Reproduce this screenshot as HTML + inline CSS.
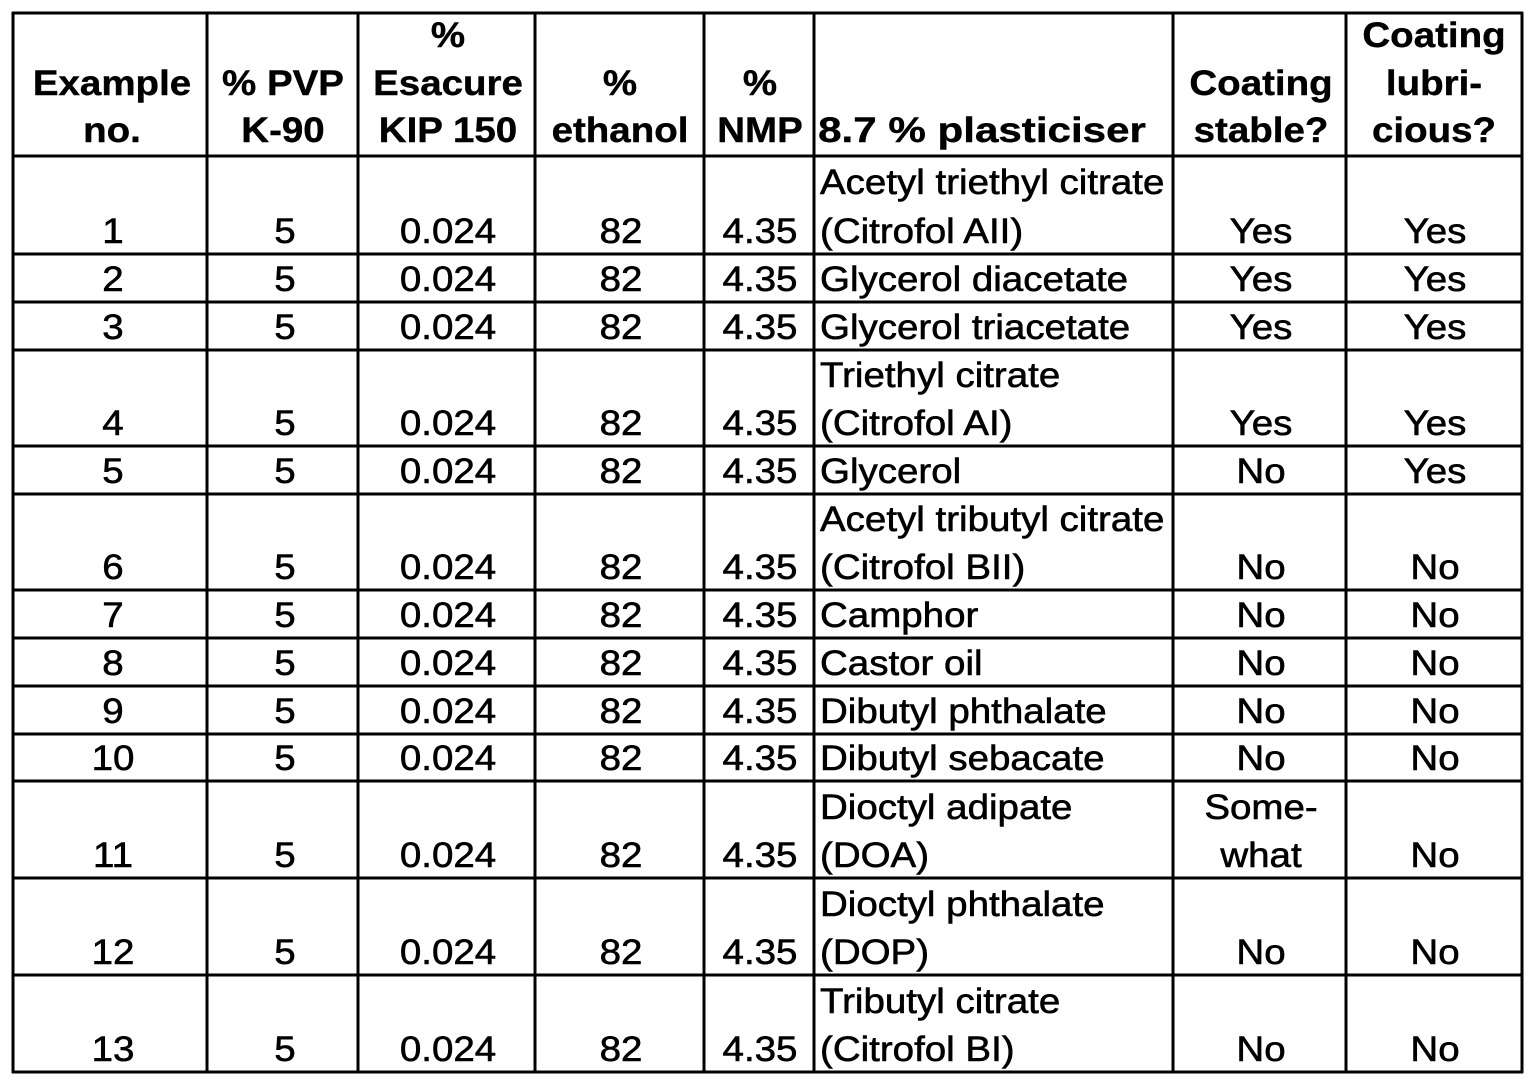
<!DOCTYPE html>
<html>
<head>
<meta charset="utf-8">
<style>
html,body{margin:0;padding:0;background:#fff;}
svg{display:block;}
text{font-family:"Liberation Sans",Arial,sans-serif;font-size:35px;fill:#000;stroke:#000;stroke-width:0.6px;}
.b{font-weight:bold;stroke-width:0.4px;}
</style>
</head>
<body>
<svg width="1534" height="1086" viewBox="0 0 1534 1086" xmlns="http://www.w3.org/2000/svg">
<rect x="0" y="0" width="1534" height="1086" fill="#fff"/>
<g stroke="#000" stroke-width="3" fill="none">
<line x1="13" y1="12" x2="13" y2="1073"/>
<line x1="207" y1="12" x2="207" y2="1073"/>
<line x1="358" y1="12" x2="358" y2="1073"/>
<line x1="535" y1="12" x2="535" y2="1073"/>
<line x1="704" y1="12" x2="704" y2="1073"/>
<line x1="814" y1="12" x2="814" y2="1073"/>
<line x1="1173" y1="12" x2="1173" y2="1073"/>
<line x1="1346" y1="12" x2="1346" y2="1073"/>
<line x1="1522" y1="12" x2="1522" y2="1073"/>
<line x1="12" y1="13" x2="1523" y2="13"/>
<line x1="12" y1="156" x2="1523" y2="156"/>
<line x1="12" y1="254" x2="1523" y2="254"/>
<line x1="12" y1="302" x2="1523" y2="302"/>
<line x1="12" y1="350" x2="1523" y2="350"/>
<line x1="12" y1="446" x2="1523" y2="446"/>
<line x1="12" y1="494" x2="1523" y2="494"/>
<line x1="12" y1="590" x2="1523" y2="590"/>
<line x1="12" y1="638" x2="1523" y2="638"/>
<line x1="12" y1="686" x2="1523" y2="686"/>
<line x1="12" y1="734" x2="1523" y2="734"/>
<line x1="12" y1="781" x2="1523" y2="781"/>
<line x1="12" y1="878" x2="1523" y2="878"/>
<line x1="12" y1="975" x2="1523" y2="975"/>
<line x1="12" y1="1072" x2="1523" y2="1072"/>
</g>

<g text-anchor="middle">
<text class="b" transform="translate(112,95) scale(1.1,1)">Example</text>
<text class="b" transform="translate(112,142) scale(1.1,1)">no.</text>
<text class="b" transform="translate(283,95) scale(1.1,1)">% PVP</text>
<text class="b" transform="translate(283,142) scale(1.1,1)">K-90</text>
<text class="b" transform="translate(448,47) scale(1.1,1)">%</text>
<text class="b" transform="translate(448,95) scale(1.1,1)">Esacure</text>
<text class="b" transform="translate(448,142) scale(1.1,1)">KIP 150</text>
<text class="b" transform="translate(620,95) scale(1.1,1)">%</text>
<text class="b" transform="translate(620,142) scale(1.1,1)">ethanol</text>
<text class="b" transform="translate(760,95) scale(1.1,1)">%</text>
<text class="b" transform="translate(760,142) scale(1.1,1)">NMP</text>
<text class="b" transform="translate(982,142) scale(1.1,1)" textLength="298" lengthAdjust="spacingAndGlyphs">8.7 % plasticiser</text>
<text class="b" transform="translate(1261,95) scale(1.1,1)">Coating</text>
<text class="b" transform="translate(1261,142) scale(1.1,1)">stable?</text>
<text class="b" transform="translate(1434,47) scale(1.1,1)">Coating</text>
<text class="b" transform="translate(1434,95) scale(1.1,1)">lubri-</text>
<text class="b" transform="translate(1434,142) scale(1.1,1)">cious?</text>
</g>

<g text-anchor="middle">
<text transform="translate(113,243) scale(1.1,1)">1</text>
<text transform="translate(113,291) scale(1.1,1)">2</text>
<text transform="translate(113,339) scale(1.1,1)">3</text>
<text transform="translate(113,435) scale(1.1,1)">4</text>
<text transform="translate(113,483) scale(1.1,1)">5</text>
<text transform="translate(113,579) scale(1.1,1)">6</text>
<text transform="translate(113,627) scale(1.1,1)">7</text>
<text transform="translate(113,675) scale(1.1,1)">8</text>
<text transform="translate(113,723) scale(1.1,1)">9</text>
<text transform="translate(113,770) scale(1.1,1)">10</text>
<text transform="translate(113,867) scale(1.1,1)">11</text>
<text transform="translate(113,964) scale(1.1,1)">12</text>
<text transform="translate(113,1061) scale(1.1,1)">13</text>

<text transform="translate(285,243) scale(1.1,1)">5</text>
<text transform="translate(285,291) scale(1.1,1)">5</text>
<text transform="translate(285,339) scale(1.1,1)">5</text>
<text transform="translate(285,435) scale(1.1,1)">5</text>
<text transform="translate(285,483) scale(1.1,1)">5</text>
<text transform="translate(285,579) scale(1.1,1)">5</text>
<text transform="translate(285,627) scale(1.1,1)">5</text>
<text transform="translate(285,675) scale(1.1,1)">5</text>
<text transform="translate(285,723) scale(1.1,1)">5</text>
<text transform="translate(285,770) scale(1.1,1)">5</text>
<text transform="translate(285,867) scale(1.1,1)">5</text>
<text transform="translate(285,964) scale(1.1,1)">5</text>
<text transform="translate(285,1061) scale(1.1,1)">5</text>

<text transform="translate(448,243) scale(1.1,1)">0.024</text>
<text transform="translate(448,291) scale(1.1,1)">0.024</text>
<text transform="translate(448,339) scale(1.1,1)">0.024</text>
<text transform="translate(448,435) scale(1.1,1)">0.024</text>
<text transform="translate(448,483) scale(1.1,1)">0.024</text>
<text transform="translate(448,579) scale(1.1,1)">0.024</text>
<text transform="translate(448,627) scale(1.1,1)">0.024</text>
<text transform="translate(448,675) scale(1.1,1)">0.024</text>
<text transform="translate(448,723) scale(1.1,1)">0.024</text>
<text transform="translate(448,770) scale(1.1,1)">0.024</text>
<text transform="translate(448,867) scale(1.1,1)">0.024</text>
<text transform="translate(448,964) scale(1.1,1)">0.024</text>
<text transform="translate(448,1061) scale(1.1,1)">0.024</text>

<text transform="translate(621,243) scale(1.1,1)">82</text>
<text transform="translate(621,291) scale(1.1,1)">82</text>
<text transform="translate(621,339) scale(1.1,1)">82</text>
<text transform="translate(621,435) scale(1.1,1)">82</text>
<text transform="translate(621,483) scale(1.1,1)">82</text>
<text transform="translate(621,579) scale(1.1,1)">82</text>
<text transform="translate(621,627) scale(1.1,1)">82</text>
<text transform="translate(621,675) scale(1.1,1)">82</text>
<text transform="translate(621,723) scale(1.1,1)">82</text>
<text transform="translate(621,770) scale(1.1,1)">82</text>
<text transform="translate(621,867) scale(1.1,1)">82</text>
<text transform="translate(621,964) scale(1.1,1)">82</text>
<text transform="translate(621,1061) scale(1.1,1)">82</text>

<text transform="translate(760,243) scale(1.1,1)">4.35</text>
<text transform="translate(760,291) scale(1.1,1)">4.35</text>
<text transform="translate(760,339) scale(1.1,1)">4.35</text>
<text transform="translate(760,435) scale(1.1,1)">4.35</text>
<text transform="translate(760,483) scale(1.1,1)">4.35</text>
<text transform="translate(760,579) scale(1.1,1)">4.35</text>
<text transform="translate(760,627) scale(1.1,1)">4.35</text>
<text transform="translate(760,675) scale(1.1,1)">4.35</text>
<text transform="translate(760,723) scale(1.1,1)">4.35</text>
<text transform="translate(760,770) scale(1.1,1)">4.35</text>
<text transform="translate(760,867) scale(1.1,1)">4.35</text>
<text transform="translate(760,964) scale(1.1,1)">4.35</text>
<text transform="translate(760,1061) scale(1.1,1)">4.35</text>

<text transform="translate(1261,243) scale(1.1,1)">Yes</text>
<text transform="translate(1261,291) scale(1.1,1)">Yes</text>
<text transform="translate(1261,339) scale(1.1,1)">Yes</text>
<text transform="translate(1261,435) scale(1.1,1)">Yes</text>
<text transform="translate(1261,483) scale(1.1,1)">No</text>
<text transform="translate(1261,579) scale(1.1,1)">No</text>
<text transform="translate(1261,627) scale(1.1,1)">No</text>
<text transform="translate(1261,675) scale(1.1,1)">No</text>
<text transform="translate(1261,723) scale(1.1,1)">No</text>
<text transform="translate(1261,770) scale(1.1,1)">No</text>
<text transform="translate(1261,819) scale(1.1,1)">Some-</text>
<text transform="translate(1261,867) scale(1.1,1)">what</text>
<text transform="translate(1261,964) scale(1.1,1)">No</text>
<text transform="translate(1261,1061) scale(1.1,1)">No</text>

<text transform="translate(1435,243) scale(1.1,1)">Yes</text>
<text transform="translate(1435,291) scale(1.1,1)">Yes</text>
<text transform="translate(1435,339) scale(1.1,1)">Yes</text>
<text transform="translate(1435,435) scale(1.1,1)">Yes</text>
<text transform="translate(1435,483) scale(1.1,1)">Yes</text>
<text transform="translate(1435,579) scale(1.1,1)">No</text>
<text transform="translate(1435,627) scale(1.1,1)">No</text>
<text transform="translate(1435,675) scale(1.1,1)">No</text>
<text transform="translate(1435,723) scale(1.1,1)">No</text>
<text transform="translate(1435,770) scale(1.1,1)">No</text>
<text transform="translate(1435,867) scale(1.1,1)">No</text>
<text transform="translate(1435,964) scale(1.1,1)">No</text>
<text transform="translate(1435,1061) scale(1.1,1)">No</text>
</g>

<g text-anchor="start">
<text transform="translate(820,194) scale(1.1,1)">Acetyl triethyl citrate</text>
<text transform="translate(820,243) scale(1.1,1)">(Citrofol AII)</text>
<text transform="translate(820,291) scale(1.1,1)">Glycerol diacetate</text>
<text transform="translate(820,339) scale(1.1,1)">Glycerol triacetate</text>
<text transform="translate(820,387) scale(1.1,1)">Triethyl citrate</text>
<text transform="translate(820,435) scale(1.1,1)">(Citrofol AI)</text>
<text transform="translate(820,483) scale(1.1,1)">Glycerol</text>
<text transform="translate(820,531) scale(1.1,1)">Acetyl tributyl citrate</text>
<text transform="translate(820,579) scale(1.1,1)">(Citrofol BII)</text>
<text transform="translate(820,627) scale(1.1,1)">Camphor</text>
<text transform="translate(820,675) scale(1.1,1)">Castor oil</text>
<text transform="translate(820,723) scale(1.1,1)">Dibutyl phthalate</text>
<text transform="translate(820,770) scale(1.1,1)">Dibutyl sebacate</text>
<text transform="translate(820,819) scale(1.1,1)">Dioctyl adipate</text>
<text transform="translate(820,867) scale(1.1,1)">(DOA)</text>
<text transform="translate(820,916) scale(1.1,1)">Dioctyl phthalate</text>
<text transform="translate(820,964) scale(1.1,1)">(DOP)</text>
<text transform="translate(820,1013) scale(1.1,1)">Tributyl citrate</text>
<text transform="translate(820,1061) scale(1.1,1)">(Citrofol BI)</text>
</g>
</svg>
</body>
</html>
